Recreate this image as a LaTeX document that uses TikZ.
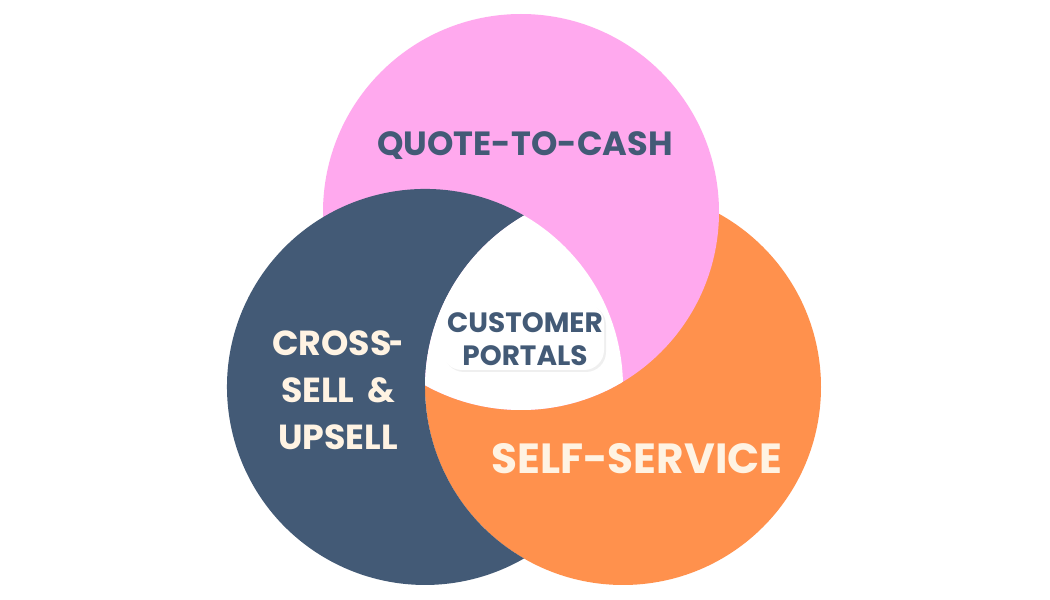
\documentclass[tikz,border=0pt]{standalone}
\usepackage{fontspec}
\setmainfont{Poppins}
\usetikzlibrary{shadows}
\tikzset{
  biglabel/.style={font=\bfseries\fontsize{9.55pt}{13.4pt}\selectfont, align=center, inner sep=0pt},
  sidelabel/.style={font=\bfseries\fontsize{9.9pt}{13.4pt}\selectfont, align=center, inner sep=0pt},
  smalllabel/.style={font=\bfseries\fontsize{7.95pt}{9.4pt}\selectfont, align=center, inner sep=0pt},
  hugelabel/.style={font=\bfseries\fontsize{12pt}{14pt}\selectfont, inner sep=0pt}
}

\begin{document}
\begin{tikzpicture}
  \definecolor{pinkfill}{RGB}{255,169,238}
  \definecolor{navyfill}{RGB}{67,90,118}
  \definecolor{orangefill}{RGB}{255,145,77}
  \definecolor{creamtext}{RGB}{255,243,227}
  \useasboundingbox (0, 0) rectangle (10.5, 6);
  \fill [white] (0, 0) rectangle (10.5, 6);
  \fill [orangefill] (6.23, 2.13) circle (1.98);
  \fill [pinkfill] (5.21, 3.88) circle (1.98);
  % navy without the part that orange covers
  \fill [navyfill] (5.24, 3.845) arc [start angle=60, end angle=300, radius=1.98]
    arc [start angle=240, end angle=120, radius=1.98];
  % middle stays empty
  \begin{scope}
    \clip (6.23, 2.13) circle (1.98);
    \clip (5.21, 3.88) circle (1.98);
    \fill [white] (4.25, 2.13) circle (1.98);
  \end{scope}
  \node [biglabel, text=navyfill] (quote) at (5.25, 4.54) {QUOTE-TO-CASH};
  \node [sidelabel, text=creamtext] (cross) at (3.38, 2.10) {CROSS\kern-0.5pt\scalebox{0.7}[1]{-}\\SELL\kern1.5pt\ \&\\UPSELL};
  \node [hugelabel, text=creamtext] (self) at (6.37, 1.41) {SELF-SERVICE};
  \fill [white, rounded corners=0.2cm, drop shadow={opacity=0.12, shadow xshift=0.02cm, shadow yshift=-0.02cm}]
    (4.42, 2.30) rectangle (6.04, 2.97);
  \node [smalllabel, text=navyfill] (portals) at (5.25, 2.61) {CUSTOMER\\PORTALS};
\end{tikzpicture}
\end{document}
